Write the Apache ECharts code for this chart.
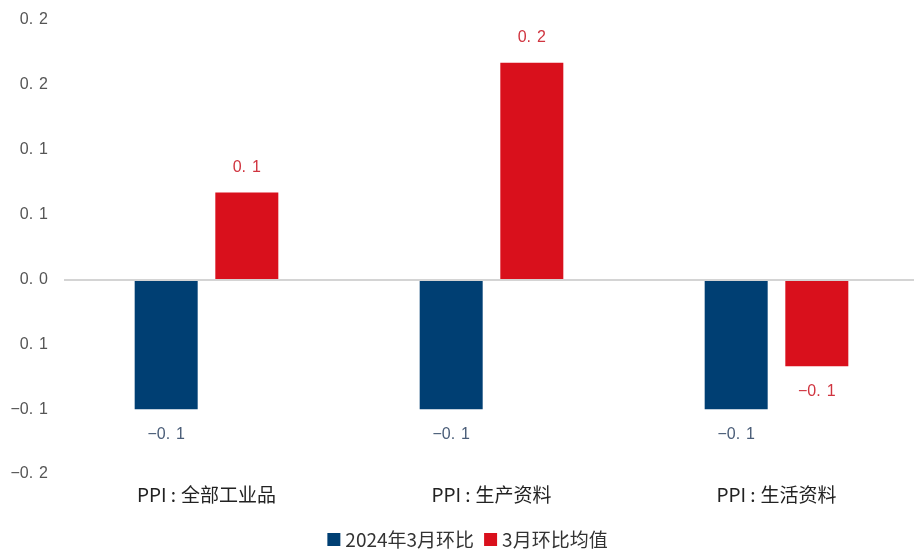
<!DOCTYPE html>
<html>
<head>
<meta charset="utf-8">
<script src="https://cdn.jsdelivr.net/npm/echarts@6/dist/echarts.min.js"></script>
<style>
  html, body { margin: 0; padding: 0; background: #fff; overflow: hidden; }
  #main { width: 935px; height: 552px; }
</style>
</head>
<body>
<div id="main"></div>
<script>
// 数据
const categories = ['PPI:全部工业品', 'PPI:生产资料', 'PPI:生活资料'];
const seriesNames = ['2024年3月环比', '3月环比均值'];
const mom2024 = [-0.1, -0.1, -0.1];
const momAvg = [0.067, 0.167, -0.067];
// y轴刻度 (从上到下) 及原图显示的标签
const yTicks = [0.2, 0.15, 0.1, 0.05, 0, -0.05, -0.1, -0.15];
const yTickLabels = ['0.2', '0.2', '0.1', '0.1', '0.0', '0.1', '-0.1', '-0.2'];

const myChart = echarts.init(document.getElementById('main'));
const font = '"Noto Sans CJK SC", "Liberation Sans", sans-serif';
const numFont = '"Liberation Sans", Arial, sans-serif';

// 小数点后留一点空隙, 负号用长一点的减号, 模仿原图的字形
function spaced(txt) {
  txt = txt.replace('-', '\u2212');
  const k = txt.indexOf('.');
  if (k < 0) return txt;
  return '{a|' + txt.slice(0, k + 1) + '}{b|' + txt.slice(k + 1) + '}';
}
function numRich(color, size) {
  return {
    a: { color: color, fontSize: size, fontFamily: numFont },
    b: { color: color, fontSize: size, fontFamily: numFont, padding: [0, 0, 0, 6] }
  };
}

const option = {
  animation: false,
  textStyle: { fontFamily: font },
  legend: {
    bottom: -2,
    left: 'center',
    itemWidth: 13,
    itemHeight: 13,
    itemGap: 10,
    icon: 'rect',
    textStyle: { fontSize: 19, color: '#333', fontFamily: font },
    data: seriesNames
  },
  grid: { left: 64, right: 16, top: 20, bottom: 78 },
  xAxis: {
    type: 'category',
    data: categories,
    position: 'bottom',
    axisLine: { show: false },
    axisTick: { show: false },
    axisLabel: {
      margin: 11,
      formatter: function (v) {
        const k = v.indexOf(':');
        return '{p|' + v.slice(0, k) + '}{c|:}{t|' + v.slice(k + 1) + '}';
      },
      rich: {
        p: { fontSize: 19, color: '#222', fontFamily: font },
        c: { fontSize: 19, color: '#222', fontFamily: font, padding: [0, 5, 0, 4] },
        t: { fontSize: 19, color: '#222', fontFamily: font }
      }
    }
  },
  yAxis: {
    type: 'value',
    min: -0.15,
    max: 0.2,
    interval: 0.05,
    splitLine: { show: false },
    axisLine: { show: false },
    axisTick: { show: false },
    axisLabel: {
      margin: 16,
      rich: numRich('#555', 16),
      formatter: function (v) {
        const i = yTicks.findIndex(t => Math.abs(t - v) < 1e-6);
        return i >= 0 ? spaced(yTickLabels[i]) : '';
      }
    }
  },
  series: [
    {
      name: seriesNames[0],
      type: 'bar',
      data: mom2024,
      barWidth: 63,
      barGap: '28%',
      itemStyle: { color: '#003f73' },
      label: {
        show: true,
        position: 'bottom',
        distance: 17,
        rich: numRich('#4a5d78', 16),
        formatter: p => spaced(p.value.toFixed(1))
      },
      markLine: {
        silent: true,
        symbol: 'none',
        label: { show: false },
        lineStyle: { color: '#d4d4d4', type: 'solid', width: 2 },
        data: [{ yAxis: 0 }]
      }
    },
    {
      name: seriesNames[1],
      type: 'bar',
      barWidth: 63,
      itemStyle: { color: '#d9101c' },
      label: {
        show: true,
        position: 'top',
        distance: 17,
        rich: numRich('#d0343f', 16),
        formatter: p => spaced(p.value.toFixed(1))
      },
      // 负值标签放在柱子下方
      data: momAvg.map(v => ({
        value: v,
        label: { position: v < 0 ? 'bottom' : 'top' }
      }))
    }
  ]
};

option && myChart.setOption(option);
</script>
</body>
</html>
